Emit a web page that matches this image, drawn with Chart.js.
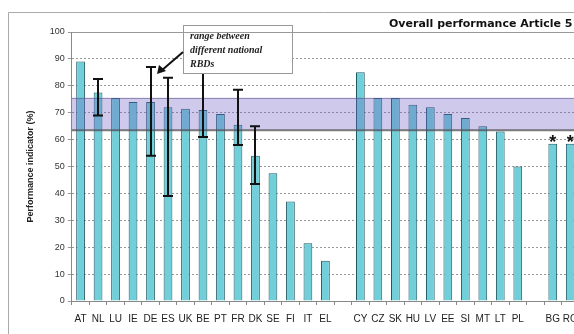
<!DOCTYPE html>
<html>
<head>
<meta charset="utf-8">
<script src="https://cdn.jsdelivr.net/npm/chart.js@4"></script>
<style>
  html, body { margin: 0; padding: 0; background: #fff; overflow: hidden; }
  #wrap { position: relative; width: 640px; height: 334px; }
</style>
</head>
<body>
<div id="wrap"><canvas id="chart" width="640" height="334"></canvas></div>
<script>
// categories ('' = empty slot between country groups)
const countries = ['AT','NL','LU','IE','DE','ES','UK','BE','PT','FR','DK','SE','FI','IT','EL','',
                   'CY','CZ','SK','HU','LV','EE','SI','MT','LT','PL','','BG','RO'];
// performance indicator (%)
const performance = [89, 77.5, 75.5, 74, 74, 72, 71.5, 71, 69.5, 65.5, 54, 47.5, 37, 21.5, 15, null,
                     85, 75.5, 75.5, 73, 72, 69.5, 68, 65, 63, 50, null, 58.5, 58.5];
// range between different national RBDs
const rangeLow  = [null, 69, null, null, 54, 39, null, 61, null, 58, 43.5, null, null, null, null, null,
                   null, null, null, null, null, null, null, null, null, null, null, null, null];
const rangeHigh = [null, 82.5, null, null, 87, 83, null, 86, null, 78.5, 65, null, null, null, null, null,
                   null, null, null, null, null, null, null, null, null, null, null, null, null];
const starred = ['BG', 'RO'];
const yTicks = [0, 10, 20, 30, 40, 50, 60, 70, 80, 90, 100];
// shaded band
const bandLow = 63.5;
const bandHigh = 75.5;

// extra drawing: band, error ranges, stars, note box, title, frame
const extras = {
  id: 'extras',
  afterDatasetsDraw(chart) {
    const ctx = chart.ctx;
    const x = chart.scales.x, y = chart.scales.y;
    const area = chart.chartArea;

    // purple band over the bars
    const bt = y.getPixelForValue(bandHigh), bb = y.getPixelForValue(bandLow);
    ctx.save();
    ctx.fillStyle = 'rgba(110, 95, 195, 0.33)';
    ctx.fillRect(area.left, bt, area.right - area.left, bb - bt);
    ctx.strokeStyle = 'rgba(90, 80, 140, 0.6)';
    ctx.lineWidth = 1;
    ctx.beginPath(); ctx.moveTo(area.left, bt + 0.5); ctx.lineTo(area.right, bt + 0.5); ctx.stroke();
    ctx.strokeStyle = 'rgba(80, 80, 80, 0.75)';
    ctx.lineWidth = 2;
    ctx.beginPath(); ctx.moveTo(area.left, bb); ctx.lineTo(area.right, bb); ctx.stroke();

    // error ranges
    ctx.strokeStyle = '#111';
    ctx.lineWidth = 2;
    rangeLow.forEach((lo, i) => {
      if (lo == null) return;
      const cx = Math.round(x.getPixelForValue(i));
      const y1 = y.getPixelForValue(lo), y2 = y.getPixelForValue(rangeHigh[i]);
      ctx.beginPath();
      ctx.moveTo(cx, y1); ctx.lineTo(cx, y2);
      ctx.moveTo(cx - 5, y1); ctx.lineTo(cx + 5, y1);
      ctx.moveTo(cx - 5, y2); ctx.lineTo(cx + 5, y2);
      ctx.stroke();
    });

    // stars
    ctx.fillStyle = '#111';
    ctx.font = 'bold 18px "Liberation Sans", Arial';
    ctx.textAlign = 'center';
    ctx.textBaseline = 'alphabetic';
    starred.forEach(c => {
      const i = countries.indexOf(c);
      ctx.fillText('*', x.getPixelForValue(i), y.getPixelForValue(performance[i]) + 4);
    });

    // note box
    ctx.fillStyle = '#fff';
    ctx.fillRect(183, 25, 109, 48);
    ctx.strokeStyle = '#999';
    ctx.lineWidth = 1;
    ctx.strokeRect(183.5, 25.5, 109, 48);
    ctx.fillStyle = '#222';
    ctx.textAlign = 'left';
    ctx.font = 'italic bold 10px "Liberation Serif", "Times New Roman", serif';
    ctx.fillText('range between', 190, 39);
    ctx.fillText('different national', 190, 53);
    ctx.fillText('RBDs', 190, 67);

    // arrow to DE
    ctx.strokeStyle = '#111';
    ctx.lineWidth = 2;
    ctx.beginPath(); ctx.moveTo(183, 52); ctx.lineTo(161, 71); ctx.stroke();
    ctx.fillStyle = '#111';
    ctx.beginPath();
    ctx.moveTo(157, 74); ctx.lineTo(159, 65); ctx.lineTo(166, 71); ctx.closePath(); ctx.fill();

    // title + outer frame
    ctx.font = 'bold 11px "DejaVu Sans", Verdana, sans-serif';
    ctx.fillStyle = '#111';
    ctx.fillText('Overall performance Article 5', 389, 27);
    ctx.strokeStyle = '#aaa';
    ctx.lineWidth = 1;
    ctx.beginPath();
    ctx.moveTo(8.5, 340); ctx.lineTo(8.5, 12.5); ctx.lineTo(640, 12.5);
    ctx.stroke();
    ctx.strokeStyle = '#999';
    ctx.beginPath(); ctx.moveTo(area.left, area.top + 0.5); ctx.lineTo(640, area.top + 0.5); ctx.stroke();
    ctx.restore();
  }
};

new Chart(document.getElementById('chart'), {
  type: 'bar',
  data: {
    labels: countries,
    datasets: [{
      data: performance,
      backgroundColor: '#70cfd9',
      borderColor: '#1f5862',
      borderWidth: 1,
      barPercentage: 0.5,
      categoryPercentage: 1.0
    }]
  },
  options: {
    responsive: false,
    animation: false,
    layout: { padding: { left: 21, right: 61, top: 32, bottom: 1 } },
    plugins: { legend: { display: false }, tooltip: { enabled: false } },
    scales: {
      x: {
        grid: { drawOnChartArea: false, drawTicks: true, tickLength: 4, color: '#888', offset: true },
        border: { color: '#888' },
        ticks: {
          color: '#222', padding: 8, maxRotation: 0, autoSkip: false,
          font: { family: '"Liberation Sans", Arial', size: 10 }
        }
      },
      y: {
        min: 0, max: 100,
        afterBuildTicks(axis) { axis.ticks = yTicks.map(v => ({ value: v })); },
        grid: { color: '#999', tickLength: 4, lineWidth: 1 },
        border: { color: '#888', dash: [2, 2] },
        ticks: { color: '#333', padding: 3, font: { family: '"Liberation Sans", Arial', size: 9 } },
        title: {
          display: true, text: 'Performance indicator (%)', color: '#222', padding: { bottom: 11 },
          font: { family: '"Liberation Sans", Arial', size: 9, weight: 'bold' }
        }
      }
    }
  },
  plugins: [extras]
});
</script>
</body>
</html>
